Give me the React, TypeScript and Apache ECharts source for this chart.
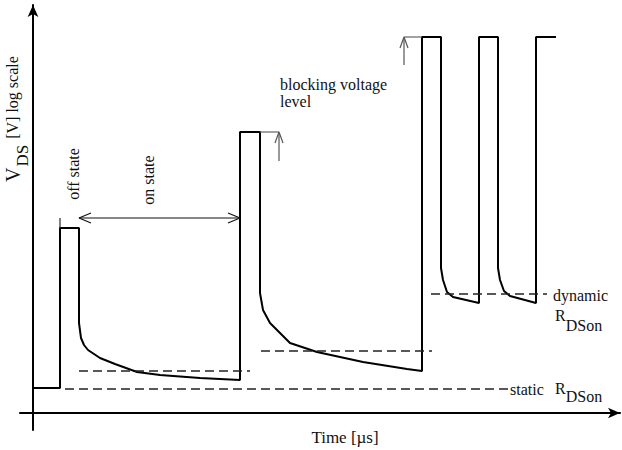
import React, { useEffect, useRef } from "react";
import * as echarts from "echarts";

// Time axis units (t) and voltage level units (v, arbitrary log-scale level)
const waveform: [number, number][] = [
  [0, 25], [27, 25], [27, 185], [46, 185], [46, 90], [48, 75], [51, 68], [55, 63],
  [67, 55], [82, 49], [104, 41], [127, 38], [167, 35], [207, 33],
  [207, 281], [227, 281], [227, 120], [230, 103], [237, 90], [257, 70], [284, 61],
  [330, 51], [374, 44], [389, 42],
  [389, 376], [408, 376], [408, 145], [410, 133], [414, 121], [420, 116], [446, 110],
  [446, 376], [465, 376], [465, 145], [467, 133], [471, 122], [477, 117], [503, 110],
  [503, 376], [523, 376],
];

// dashed reference levels: [tStart, tEnd, level]
const staticLevel: [number, number, number] = [32, 475, 24];
const onLevel1: [number, number, number] = [46, 217, 42];
const onLevel2: [number, number, number] = [228, 399, 62];
const dynamicLevel: [number, number, number] = [398, 514, 119];

// annotation marks
const offStateTick: [number, number][] = [[27, 185], [27, 195]];
const onStateSpan: [number, number][] = [[46, 195], [207, 195]];
const onArrowLeft: [number, number][] = [[58, 200], [46, 195], [58, 190]];
const onArrowRight: [number, number][] = [[195, 200], [207, 195], [195, 190]];
const block1Level: [number, number][] = [[227, 281], [246, 281]];
const block1Shaft: [number, number][] = [[246, 252], [246, 280]];
const block1Head: [number, number][] = [[242, 270], [246, 281], [250, 270]];
const block2Level: [number, number][] = [[371, 376], [389, 376]];
const block2Shaft: [number, number][] = [[371, 348], [371, 375]];
const block2Head: [number, number][] = [[367, 365], [371, 376], [375, 365]];

const serif = "Liberation Serif, Times New Roman, serif";

function seg(data: [number, number][], color: string, width: number, type: any = "solid") {
  return {
    type: "line",
    data,
    showSymbol: false,
    symbol: "none",
    silent: true,
    lineStyle: { color, width, type },
  };
}

function level(l: [number, number, number]) {
  return seg([[l[0], l[2]], [l[1], l[2]]], "#222", 1.3, [9, 5]);
}

function txt(text: string, x: number, y: number, size: number, opts: any = {}) {
  return {
    type: "text",
    x,
    y,
    rotation: opts.rotation || 0,
    silent: true,
    style: {
      text,
      fill: "#111",
      fontSize: size,
      fontFamily: serif,
      align: opts.align || "left",
      verticalAlign: opts.verticalAlign || "middle",
      lineHeight: opts.lineHeight,
      rich: opts.rich,
    },
  };
}

export default function App() {
  const ref = useRef<HTMLDivElement>(null);
  useEffect(() => {
    if (!ref.current) return;
    const chart = echarts.init(ref.current, null, { renderer: "svg" });
    const R = Math.PI / 2;
    chart.setOption({
      animation: false,
      backgroundColor: "#fff",
      grid: { left: 20, right: 2, top: 5, bottom: 20, containLabel: false },
      xAxis: {
        type: "value",
        min: -13,
        max: 587,
        axisLine: {
          onZero: true,
          lineStyle: { color: "#000", width: 2.2 },
          symbol: ["none", "arrow"],
          symbolSize: [8, 12],
        },
        axisTick: { show: false },
        axisLabel: { show: false },
        splitLine: { show: false },
      },
      yAxis: {
        type: "value",
        min: -17,
        max: 408,
        axisLine: {
          onZero: true,
          lineStyle: { color: "#000", width: 2 },
          symbol: ["none", "arrow"],
          symbolSize: [8, 12],
        },
        axisTick: { show: false },
        axisLabel: { show: false },
        splitLine: { show: false },
      },
      series: [
        seg(waveform, "#000", 2),
        level(staticLevel),
        level(onLevel1),
        level(onLevel2),
        level(dynamicLevel),
        seg(offStateTick, "#000", 1),
        seg(onStateSpan, "#111", 1.2),
        seg(onArrowLeft, "#111", 1.2),
        seg(onArrowRight, "#111", 1.2),
        seg(block1Level, "#444", 1),
        seg(block1Shaft, "#555", 1.2),
        seg(block1Head, "#555", 1.2),
        seg(block2Level, "#444", 1),
        seg(block2Shaft, "#555", 1.2),
        seg(block2Head, "#555", 1.2),
      ],
      graphic: [
        txt("{v|V}{sub|DS}{m| [V] log scale}", 12.5, 182, 16, {
          rotation: R,
          rich: {
            v: { fontSize: 20, fontFamily: serif, fill: "#111" },
            sub: { fontSize: 17, fontFamily: serif, fill: "#111", padding: [20, 2, 0, 1] },
            m: { fontSize: 16, fontFamily: serif, fill: "#111" },
          },
        }),
        txt("off state", 73, 174, 16, { rotation: R, align: "center" }),
        txt("on state", 148, 180, 16, { rotation: R, align: "center" }),
        txt("blocking voltage", 280, 84, 16),
        txt("level", 280, 101, 16),
        txt("dynamic", 553, 295, 16),
        txt("{r|R}{sub|DSon}", 555, 315, 16, {
          rich: {
            r: { fontSize: 16, fontFamily: serif, fill: "#111" },
            sub: { fontSize: 16, fontFamily: serif, fill: "#111", padding: [20, 0, 0, 0] },
          },
        }),
        txt("static", 510, 389, 16),
        txt("{r|R}{sub|DSon}", 555, 388, 16, {
          rich: {
            r: { fontSize: 16, fontFamily: serif, fill: "#111" },
            sub: { fontSize: 16, fontFamily: serif, fill: "#111", padding: [16, 0, 0, 0] },
          },
        }),
        txt("Time [µs]", 345, 437, 17, { align: "center" }),
      ],
    });
    return () => chart.dispose();
  }, []);
  return (
    <div
      ref={ref}
      style={{ position: "absolute", left: 0, top: 0, width: 622, height: 450 }}
    />
  );
}
